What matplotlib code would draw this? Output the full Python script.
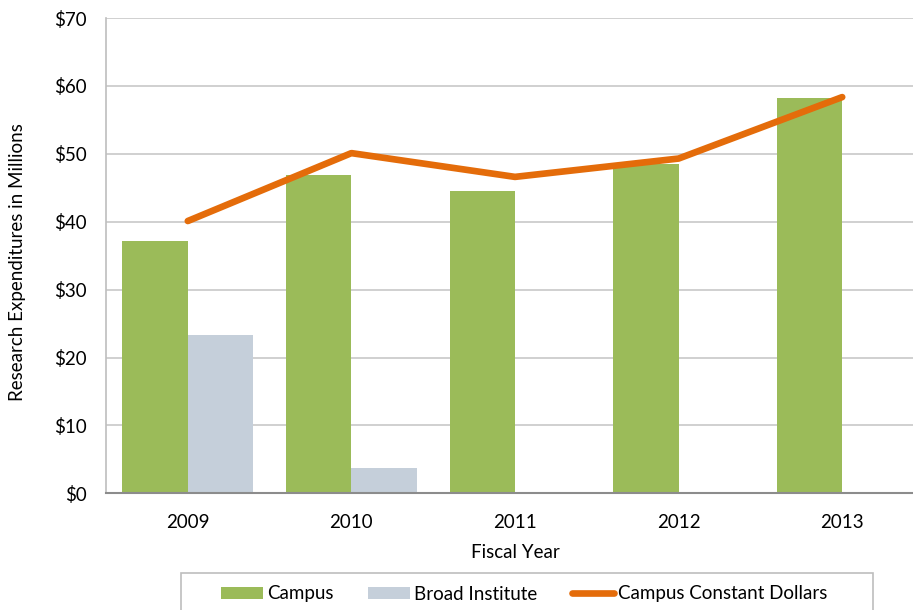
import matplotlib
matplotlib.use("Agg")
import matplotlib.pyplot as plt
import numpy as np
from matplotlib.patches import Patch, Rectangle
from matplotlib.lines import Line2D

years = ["2009", "2010", "2011", "2012", "2013"]
campus = [37.1, 46.9, 44.5, 48.45, 58.2]
broad = [23.3, 3.7, 0, 0, 0]
constant = [40.1, 50.1, 46.6, 49.3, 58.35]
yticks = [0, 10, 20, 30, 40, 50, 60, 70]
ytick_labels = ["$0", "$10", "$20", "$30", "$40", "$50", "$60", "$70"]

plt.rcParams['font.family'] = ['Lato', 'DejaVu Sans']

W, H = 913, 610
fig = plt.figure(figsize=(W/100, H/100), dpi=100)
left, right, top, bottom = 106, 924, 18, 493.3
ax = fig.add_axes([left/W, 1-bottom/H, (right-left)/W, (bottom-top)/H])

x = np.arange(len(years))
green = "#9BBB59"
grey = "#C5CFDA"
orange = "#E46C0A"
fs = 13.5

ax.bar(x-0.2, campus, width=0.4, color=green, zorder=2)
ax.bar(x+0.2, broad, width=0.4, color=grey, zorder=2)
ax.plot(x, constant, color=orange, lw=4.8, solid_capstyle='round', solid_joinstyle='round', zorder=3)

ax.set_xlim(-0.5, 4.5)
ax.set_ylim(0, 70)
ax.set_yticks(yticks)
ax.set_yticklabels(ytick_labels, fontsize=13.5)
ax.set_xticks(x)
ax.set_xticklabels(years, fontsize=13.5)
ax.tick_params(axis='both', length=0, colors='black')
ax.tick_params(axis='y', pad=14)
ax.tick_params(axis='x', pad=15)
ax.grid(axis='y', color='#C8C8C8', lw=1.2, zorder=0)
ax.set_axisbelow(True)
for s in ['top', 'right']:
    ax.spines[s].set_visible(False)
ax.spines['left'].set_color('#BEBEBE')
ax.spines['left'].set_linewidth(1.2)
ax.spines['bottom'].set_color('#8C8C8C')
ax.spines['bottom'].set_linewidth(1.5)

fig.text(515/W, 1-553/H, "Fiscal Year", ha='center', va='center', fontsize=fs)
fig.text(18/W, 1-262/H, "Research Expenditures in Millions", ha='center', va='center',
         rotation=90, fontsize=fs)

# legend frame (extends past the bottom edge as in the reference)
fig.patches.append(Rectangle((181/W, 1-620/H), (873-181)/W, (620-573)/H,
                             transform=fig.transFigure, facecolor='white',
                             edgecolor='#BEBEBE', lw=1.2, zorder=1))

handles = [Patch(facecolor=green), Patch(facecolor=grey),
           Line2D([0], [0], color=orange, lw=4.8, solid_capstyle='round')]
labels = ["Campus", "Broad Institute", "Campus Constant Dollars"]
leg = fig.legend(handles, labels, loc='center', bbox_to_anchor=(524/W, 1-594/H),
                 ncol=3, fontsize=fs, frameon=False,
                 handlelength=2.25, handleheight=0.65,
                 handletextpad=0.2, columnspacing=1.85, borderpad=0,
                 borderaxespad=0)
leg.set_zorder(2)

fig.savefig("out.png", dpi=100)
